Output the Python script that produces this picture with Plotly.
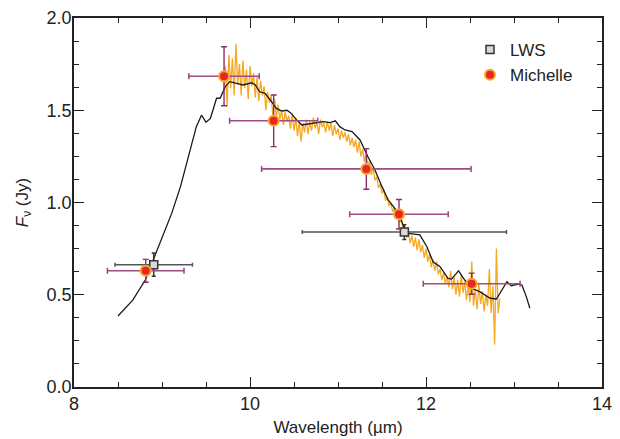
import plotly.graph_objects as go

# ---- Data ----
model_x = [8.50, 8.67, 8.81, 8.90, 9.02, 9.11, 9.21, 9.32, 9.39, 9.45, 9.50, 9.55, 9.62, 9.66,
           9.72, 9.77, 9.85, 9.92, 10.02, 10.06, 10.11, 10.17, 10.23, 10.30, 10.36, 10.42, 10.47,
           10.53, 10.59, 10.64, 10.72, 10.83, 10.91, 10.97, 11.02, 11.08, 11.16, 11.25, 11.34,
           11.42, 11.50, 11.57, 11.69, 11.76, 11.80, 11.93, 12.01, 12.08, 12.16, 12.25, 12.29,
           12.37, 12.44, 12.52, 12.61, 12.73, 12.80, 12.86, 12.92, 12.97, 13.05, 13.09, 13.14, 13.18]
model_y = [0.385, 0.472, 0.58, 0.688, 0.833, 0.941, 1.086, 1.285, 1.411, 1.474, 1.435, 1.456, 1.565, 1.565,
           1.628, 1.655, 1.646, 1.637, 1.649, 1.637, 1.60, 1.592, 1.556, 1.51, 1.496, 1.50, 1.483,
           1.447, 1.42, 1.424, 1.429, 1.438, 1.433, 1.443, 1.411, 1.393, 1.384, 1.339, 1.248,
           1.176, 1.086, 1.014, 0.941, 0.851, 0.833, 0.824, 0.76, 0.679, 0.652, 0.589, 0.585,
           0.630, 0.58, 0.535, 0.517, 0.481, 0.477, 0.526, 0.571, 0.549, 0.558, 0.553, 0.49, 0.427]

spec_start = 9.70
spec_step = 0.02
spec_y = [
    1.60, 1.74, 1.52, 1.80, 1.62, 1.78, 1.58, 1.86, 1.64, 1.75,
    1.58, 1.77, 1.62, 1.72, 1.56, 1.74, 1.63, 1.70, 1.57, 1.68,
    1.55, 1.66, 1.58, 1.63, 1.50, 1.60, 1.54, 1.58, 1.47, 1.56,
    1.46, 1.53, 1.45, 1.50, 1.42, 1.49, 1.44, 1.47, 1.40, 1.48,
    1.39, 1.46, 1.36, 1.44, 1.33, 1.43, 1.38, 1.45, 1.37, 1.44,
    1.39, 1.46, 1.40, 1.44, 1.37, 1.45, 1.41, 1.43, 1.38, 1.44,
    1.39, 1.43, 1.36, 1.42, 1.37, 1.40, 1.34, 1.39, 1.35, 1.38,
    1.33, 1.37, 1.31, 1.35, 1.30, 1.34, 1.27, 1.33, 1.25, 1.29,
    1.22, 1.27, 1.19, 1.23, 1.15, 1.19, 1.12, 1.14, 1.08, 1.10,
    1.05, 1.07, 1.01, 1.03, 0.98, 1.00, 0.95, 0.97, 0.92, 0.94,
    0.89, 0.91, 0.85, 0.87, 0.81, 0.84, 0.78, 0.82, 0.76, 0.81,
    0.74, 0.80, 0.73, 0.77, 0.70, 0.75, 0.68, 0.72, 0.65, 0.69,
    0.63, 0.68, 0.61, 0.64, 0.58, 0.62, 0.56, 0.60, 0.54, 0.63,
    0.53, 0.60, 0.50, 0.58, 0.49, 0.61, 0.51, 0.57, 0.47, 0.55,
    0.46, 0.68, 0.44, 0.53, 0.42, 0.56, 0.45, 0.52, 0.41, 0.50,
    0.44, 0.64, 0.40, 0.55, 0.23, 0.75, 0.40, 0.48,
]
spec_x = [round(spec_start + i * spec_step, 3) for i in range(len(spec_y))]

mich_x = [8.815, 9.705, 10.269, 11.322, 11.693, 12.519]
mich_y = [0.630, 1.684, 1.443, 1.182, 0.936, 0.560]
mich_xerr = [0.435, 0.40, 0.50, 1.19, 0.56, 0.55]
mich_yerr = [0.062, 0.16, 0.14, 0.11, 0.08, 0.057]

lws_x = [8.906, 11.754]
lws_y = [0.663, 0.840]
lws_xerr = [0.44, 1.16]
lws_yerr = [0.063, 0.04]

FONT = "Liberation Sans, Arial, Helvetica, sans-serif"

fig = go.Figure()
fig.add_trace(go.Scatter(x=spec_x, y=spec_y, mode="lines",
                         line=dict(color="#F7A823", width=1.3), showlegend=False, hoverinfo="skip"))
fig.add_trace(go.Scatter(x=model_x, y=model_y, mode="lines",
                         line=dict(color="#1a1a1a", width=1.3), showlegend=False))
fig.add_trace(go.Scatter(x=lws_x, y=lws_y, mode="markers", name="LWS",
                         marker=dict(symbol="square", size=8, color="#D9D9D9",
                                     line=dict(color="#333333", width=1.5)),
                         error_x=dict(type="data", array=lws_xerr, color="#555555", thickness=1.5, width=2),
                         error_y=dict(type="data", array=lws_yerr, color="#333333", thickness=1.5, width=2)))
fig.add_trace(go.Scatter(x=mich_x, y=mich_y, mode="markers", name="Michelle",
                         marker=dict(symbol="circle", size=10, color="#E8262A",
                                     line=dict(color="#F7A823", width=2)),
                         error_x=dict(type="data", array=mich_xerr, color="#9C4D82", thickness=1.6, width=3),
                         error_y=dict(type="data", array=mich_yerr, color="#8A2F6E", thickness=1.4, width=3)))

axis_common = dict(showline=True, linecolor="#222", linewidth=1.5, mirror="ticks",
                   ticks="inside", ticklen=10, tickwidth=1.2, tickcolor="#222",
                   showgrid=False, zeroline=False, automargin=False,
                   tickfont=dict(family=FONT, size=18, color="#222"))

fig.update_xaxes(range=[8, 14], dtick=2, tick0=8,
                 minor=dict(dtick=0.5, ticks="inside", ticklen=5, tickcolor="#222", tickwidth=1.2),
                 title=dict(text="Wavelength (µm)", font=dict(family=FONT, size=17, color="#222"), standoff=8),
                 **axis_common)
fig.update_yaxes(range=[0, 2.0], dtick=0.5, tick0=0, tickformat=".1f", ticklabelstandoff=-3,
                 minor=dict(dtick=0.125, ticks="inside", ticklen=5, tickcolor="#222", tickwidth=1.2),
                 title=dict(text="<i>F</i><sub>ν</sub> (Jy)", font=dict(family=FONT, size=17, color="#222"), standoff=14),
                 **axis_common)

fig.update_layout(width=620, height=439, margin=dict(l=74, r=18, t=18, b=52),
                  plot_bgcolor="white", paper_bgcolor="white",
                  legend=dict(x=0.75, y=0.962, xanchor="left", yanchor="top",
                              font=dict(family=FONT, size=17, color="#222"),
                              bgcolor="rgba(0,0,0,0)", tracegroupgap=0))

fig.write_html("out.html")
